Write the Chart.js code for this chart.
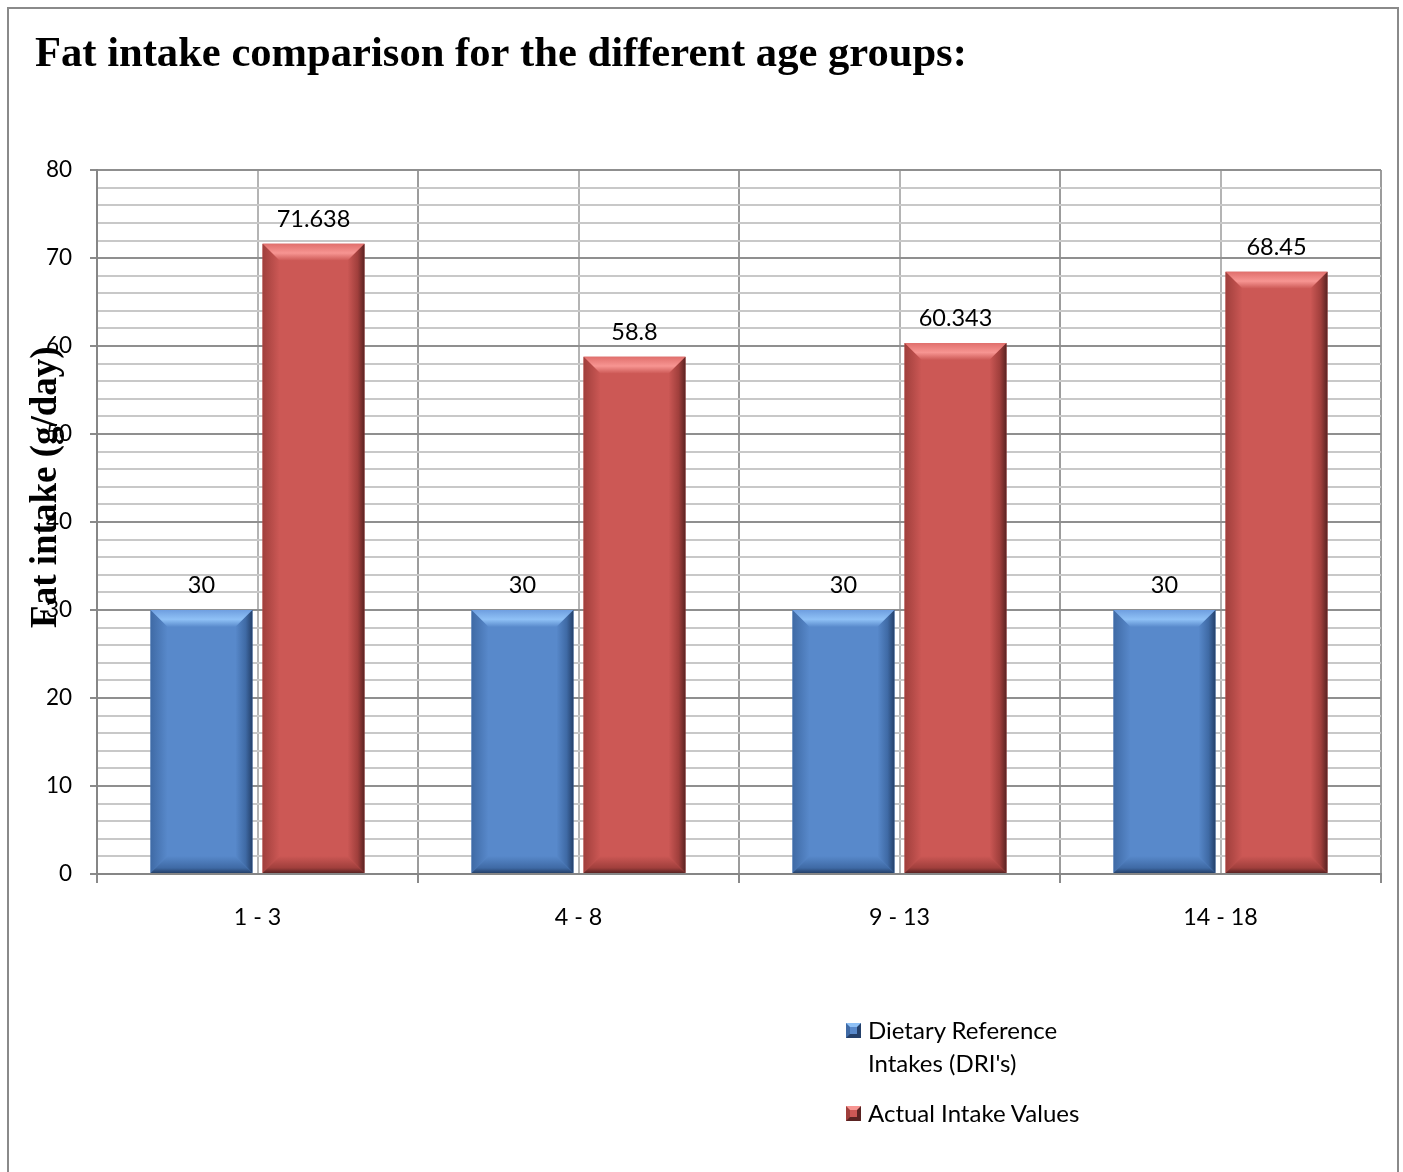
<!DOCTYPE html>
<html>
<head>
<meta charset="utf-8">
<title>Fat intake comparison</title>
<script src="https://cdn.jsdelivr.net/npm/chart.js@4/dist/chart.umd.min.js"></script>
<style>
  html, body { margin: 0; padding: 0; background: #fff; overflow: hidden; }
  #frame { position: absolute; left: 7px; top: 7px; width: 1388px; height: 1200px; border: 2px solid #8a8a8a; }
  #chart { position: absolute; left: 0; top: 0; }
  #legend { position: absolute; left: 846px; top: 1013px; font-family: Lato, sans-serif; font-size: 24px; color: #000; }
  .item { display: flex; align-items: flex-start; margin-bottom: 17px; }
  .swatch { box-sizing: border-box; width: 15px; height: 15px; border-width: 4px; border-style: solid; margin-top: 10px; margin-right: 7px; flex: none; }
  .text { width: 240px; line-height: 33px; }
</style>
</head>
<body>
<div id="frame"></div>
<canvas id="chart" width="1403" height="1172"></canvas>
<div id="legend"></div>
<script>
// Age groups and fat intake values (g/day)
const categories = ['1 - 3', '4 - 8', '9 - 13', '14 - 18'];
const driValues = [30, 30, 30, 30];
const actualValues = [71.638, 58.8, 60.343, 68.45];
const seriesNames = ["Dietary Reference Intakes (DRI's)", 'Actual Intake Values'];
const chartTitle = 'Fat intake comparison for the different age groups:';
const yAxisTitle = 'Fat intake (g/day)';
const yMin = 0, yMax = 80, yMinorStep = 2, yMajorStep = 10;

// Bar palettes: base, light (top bevel), dark (right/bottom bevel)
const palettes = [
  { base: '#5889cb', light: '#8fc1f6', mid: '#6f9fe0', dark: '#24406a', side: '#3f6aa5' },
  { base: '#cc5855', light: '#f79592', mid: '#e06f6c', dark: '#5a2322', side: '#a03f3c' }
];

// Bevelled look drawn on top of each bar element
const bevelPlugin = {
  id: 'bevel',
  afterDatasetsDraw(chart) {
    const ctx = chart.ctx;
    chart.data.datasets.forEach((ds, di) => {
      const p = palettes[di];
      chart.getDatasetMeta(di).data.forEach(el => {
        const { x: cx, y, base, width } = el.getProps(['x', 'y', 'base', 'width'], true);
        const x = cx - width / 2, w = width, h = base - y;
        const d = Math.min(17, h / 2, w / 2);
        ctx.save();
        // top
        let g = ctx.createLinearGradient(0, y, 0, y + d);
        g.addColorStop(0, p.mid); g.addColorStop(0.55, p.light); g.addColorStop(1, p.base);
        ctx.fillStyle = g;
        ctx.beginPath(); ctx.moveTo(x, y); ctx.lineTo(x + w, y); ctx.lineTo(x + w - d, y + d); ctx.lineTo(x + d, y + d); ctx.closePath(); ctx.fill();
        // left
        g = ctx.createLinearGradient(x, 0, x + d, 0);
        g.addColorStop(0, p.side); g.addColorStop(1, p.base);
        ctx.fillStyle = g;
        ctx.beginPath(); ctx.moveTo(x, y); ctx.lineTo(x + d, y + d); ctx.lineTo(x + d, base - d); ctx.lineTo(x, base); ctx.closePath(); ctx.fill();
        // right
        g = ctx.createLinearGradient(x + w - d, 0, x + w, 0);
        g.addColorStop(0, p.base); g.addColorStop(0.6, p.side); g.addColorStop(1, p.dark);
        ctx.fillStyle = g;
        ctx.beginPath(); ctx.moveTo(x + w, y); ctx.lineTo(x + w, base); ctx.lineTo(x + w - d, base - d); ctx.lineTo(x + w - d, y + d); ctx.closePath(); ctx.fill();
        // bottom
        g = ctx.createLinearGradient(0, base - d, 0, base);
        g.addColorStop(0, p.base); g.addColorStop(0.7, p.side); g.addColorStop(1, p.dark);
        ctx.fillStyle = g;
        ctx.beginPath(); ctx.moveTo(x, base); ctx.lineTo(x + d, base - d); ctx.lineTo(x + w - d, base - d); ctx.lineTo(x + w, base); ctx.closePath(); ctx.fill();
        ctx.restore();
      });
    });
  }
};

// Value labels above the bars
const valueLabelPlugin = {
  id: 'valueLabels',
  afterDatasetsDraw(chart) {
    const ctx = chart.ctx;
    ctx.save();
    ctx.font = '23.5px Lato, sans-serif';
    ctx.fillStyle = '#000';
    ctx.textAlign = 'center';
    ctx.textBaseline = 'alphabetic';
    chart.data.datasets.forEach((ds, di) => {
      chart.getDatasetMeta(di).data.forEach((el, i) => {
        const { x, y } = el.getProps(['x', 'y'], true);
        ctx.fillText(String(ds.data[i]), x, y - 17);
      });
    });
    ctx.restore();
  }
};

// Rotated value-axis title, drawn over the tick labels
const yTitlePlugin = {
  id: 'yTitle',
  afterDraw(chart) {
    const ctx = chart.ctx;
    const area = chart.chartArea;
    ctx.save();
    ctx.translate(area.left - 41, area.top + 317);
    ctx.rotate(-Math.PI / 2);
    ctx.font = 'bold 37px "Liberation Serif", "Times New Roman", serif';
    ctx.fillStyle = '#000';
    ctx.textAlign = 'center';
    ctx.textBaseline = 'alphabetic';
    ctx.fillText(yAxisTitle, 0, 0);
    ctx.restore();
  }
};

const isMajor = v => v % yMajorStep === 0;

new Chart(document.getElementById('chart'), {
  type: 'bar',
  data: {
    labels: categories,
    datasets: [
      { label: seriesNames[0], data: driValues, backgroundColor: palettes[0].base },
      { label: seriesNames[1], data: actualValues, backgroundColor: palettes[1].base }
    ]
  },
  options: {
    responsive: false,
    animation: false,
    events: [],
    categoryPercentage: 0.698,
    barPercentage: 0.91,
    layout: { padding: { left: 35, top: 10, right: 22, bottom: 0 } },
    plugins: {
      legend: { display: false },
      tooltip: { enabled: false },
      title: {
        display: true,
        text: chartTitle,
        align: 'start',
        color: '#000',
        font: { family: '"Liberation Serif", "Times New Roman", serif', size: 42.6, weight: 'bold' },
        padding: { top: 19, bottom: 90 }
      }
    },
    scales: {
      x: {
        type: 'category',
        position: 'bottom',
        offset: true,
        grid: { offset: true, color: '#9c9c9c', lineWidth: 2, tickLength: 9, tickColor: '#8a8a8a', tickWidth: 2 },
        border: { display: true, color: '#868686', width: 2 },
        ticks: { color: '#000', font: { family: 'Lato', size: 23.3 }, padding: 20 },
        afterFit(scale) { scale.height = 298; }
      },
      x2: {
        type: 'category',
        position: 'top',
        offset: true,
        grid: { offset: false, color: '#b4b4b4', lineWidth: 2, drawTicks: false },
        border: { display: false },
        ticks: { display: false },
        afterFit(scale) { scale.height = 0; }
      },
      y: {
        min: yMin,
        max: yMax,
        ticks: {
          stepSize: yMinorStep,
          autoSkip: false,
          color: '#000',
          font: { family: 'Lato', size: 22.5 },
          padding: 18,
          callback: v => (isMajor(v) ? String(v) : '')
        },
        grid: {
          color: ctx => (isMajor(ctx.tick.value) ? '#8f8f8f' : '#c8c8c8'),
          lineWidth: 2,
          tickLength: 7,
          tickColor: ctx => (isMajor(ctx.tick.value) ? '#8a8a8a' : 'rgba(0,0,0,0)'),
          tickWidth: 2
        },
        border: { display: true, color: '#868686', width: 2 },
        afterFit(scale) { scale.width = 62; }
      }
    }
  },
  plugins: [bevelPlugin, valueLabelPlugin, yTitlePlugin]
});

// Legend with bevelled swatches
const legend = document.getElementById('legend');
seriesNames.forEach((name, i) => {
  const p = palettes[i];
  const item = document.createElement('div');
  item.className = 'item';
  const sw = document.createElement('div');
  sw.className = 'swatch';
  sw.style.background = p.base;
  sw.style.borderColor = `${p.light} ${p.dark} ${p.dark} ${p.side}`;
  const tx = document.createElement('div');
  tx.className = 'text';
  tx.textContent = name;
  item.appendChild(sw);
  item.appendChild(tx);
  legend.appendChild(item);
});
</script>
</body>
</html>
